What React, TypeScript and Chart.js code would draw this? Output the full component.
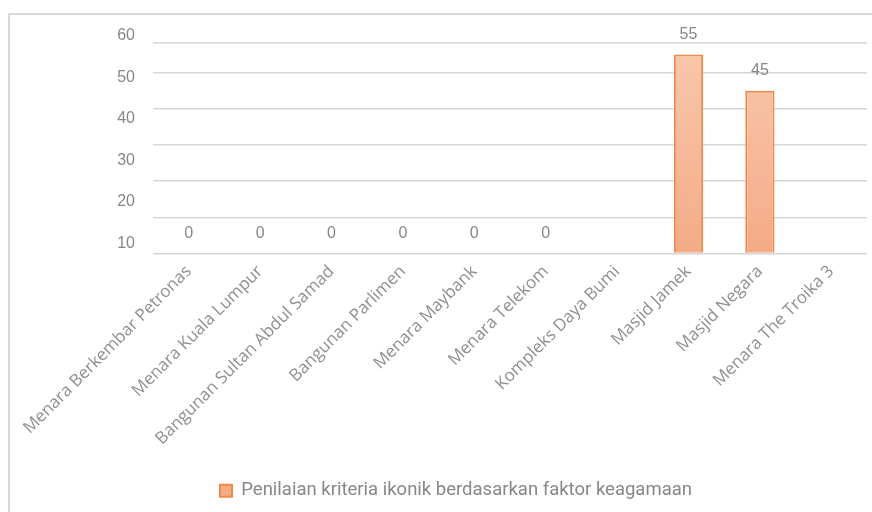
import { useEffect, useRef } from "react";
import { Chart, registerables } from "chart.js";

Chart.register(...registerables);

const categories = [
  "Menara Berkembar Petronas",
  "Menara Kuala Lumpur",
  "Bangunan Sultan Abdul Samad",
  "Bangunan Parlimen",
  "Menara Maybank",
  "Menara Telekom",
  "Kompleks Daya Bumi",
  "Masjid Jamek",
  "Masjid Negara",
  "Menara The Troika 3",
];
const seriesLabel = "Penilaian kriteria ikonik berdasarkan faktor keagamaan";
const values: (number | null)[] = [0, 0, 0, 0, 0, 0, null, 55, 45, null];
const yGridValues = [0, 10, 20, 30, 40, 50];
const yAxisMax = 58.3;
const yTickLabels = [10, 20, 30, 40, 50, 60];
const yLabelAxisMin = 7.6;

const TEXT = "#878787";

const dataLabelPlugin = {
  id: "dataLabels",
  afterDatasetsDraw(chart: any) {
    const ctx = chart.ctx;
    const meta = chart.getDatasetMeta(0);
    ctx.save();
    ctx.fillStyle = TEXT;
    ctx.font = "16px 'Liberation Sans', Arial, sans-serif";
    ctx.textAlign = "center";
    ctx.textBaseline = "middle";
    meta.data.forEach((bar: any, i: number) => {
      const v = values[i];
      if (v === null || v === undefined) return;
      ctx.fillText(String(v), bar.x, bar.y - 20);
    });
    ctx.restore();
  },
};

export default function App() {
  const ref = useRef<HTMLCanvasElement>(null);
  useEffect(() => {
    if (!ref.current) return;
    const chart = new Chart(ref.current, {
      type: "bar",
      data: {
        labels: categories,
        datasets: [
          {
            label: seriesLabel,
            data: values as any,
            backgroundColor: (c: any) => {
              const area = c.chart.chartArea;
              if (!area) return "#F5B896";
              const g = c.chart.ctx.createLinearGradient(0, area.top, 0, area.bottom);
              g.addColorStop(0, "#F8C8AE");
              g.addColorStop(1, "#F4AB86");
              return g;
            },
            borderColor: "#EF8A4C",
            borderWidth: 2,
            barPercentage: 0.41,
            categoryPercentage: 1,
            yAxisID: "y",
          },
        ],
      },
      options: {
        responsive: false,
        animation: false,
        layout: { padding: { left: 35, right: 5, top: 27, bottom: 2 } },
        scales: {
          x: {
            type: "category",
            offset: true,
            grid: { display: false, drawTicks: false },
            border: { display: false },
            ticks: {
              color: "#8f8f8f",
              font: { family: "'Open Sans', sans-serif", size: 17 },
              minRotation: 45,
              maxRotation: 45,
              autoSkip: false,
              padding: 8,
            },
            afterFit: (s: any) => {
              s.height = 218;
            },
          },
          y: {
            position: "left",
            min: 0,
            max: yAxisMax,
            afterBuildTicks: (s: any) => {
              s.ticks = [...yGridValues, yAxisMax].map((v) => ({ value: v }));
            },
            grid: { color: "#d6d6d6", lineWidth: 1.5, drawTicks: false },
            border: { display: false },
            ticks: { display: false },
            afterFit: (s: any) => {
              s.width = 0;
            },
          },
          yl: {
            position: "left",
            min: yLabelAxisMin,
            max: yAxisMax,
            afterBuildTicks: (s: any) => {
              s.ticks = yTickLabels.map((v) => ({ value: v }));
            },
            grid: { display: false, drawTicks: false },
            border: { display: false },
            ticks: {
              color: TEXT,
              font: { family: "'Liberation Sans', Arial, sans-serif", size: 16 },
              padding: 18,
              autoSkip: false,
            },
            afterFit: (s: any) => {
              s.width = 108;
            },
          },
        },
        plugins: {
          legend: {
            position: "bottom",
            labels: {
              boxWidth: 12,
              boxHeight: 12,
              color: TEXT,
              font: { family: "Roboto, sans-serif", size: 18.5 },
              padding: 10,
            },
          },
          tooltip: { enabled: false },
        },
      },
      plugins: [dataLabelPlugin],
    } as any);
    return () => chart.destroy();
  }, []);

  return (
    <div
      style={{
        position: "absolute",
        left: 8,
        top: 13,
        width: 864,
        height: 499,
        boxSizing: "border-box",
        borderTop: "2px solid #d9d9d9",
        borderLeft: "2px solid #d9d9d9",
        background: "#fff",
      }}
    >
      <canvas ref={ref} width={862} height={497} style={{ display: "block" }} />
    </div>
  );
}
